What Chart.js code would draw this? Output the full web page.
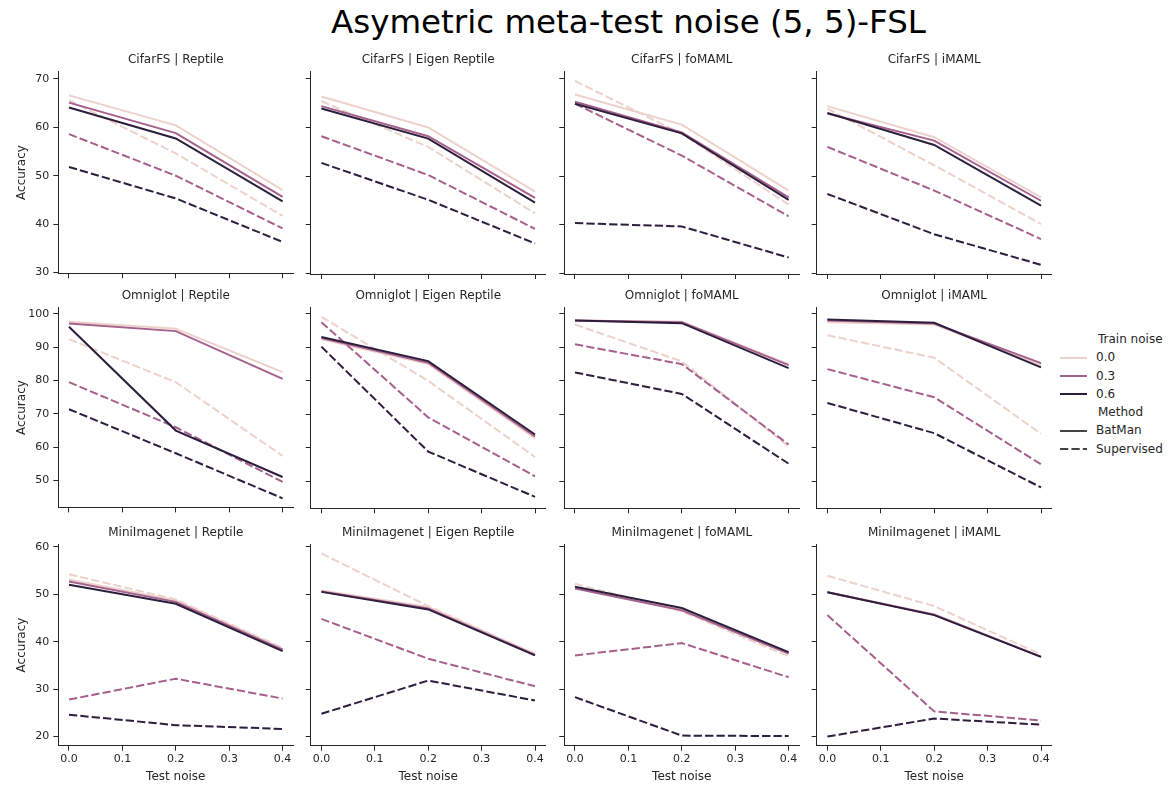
<!DOCTYPE html>
<html>
<head>
<meta charset="utf-8">
<script src="https://cdn.jsdelivr.net/npm/chart.js@4.4.1/dist/chart.umd.min.js"></script>
<style>
  body { margin: 0; background: #fff; font-family: 'DejaVu Sans', sans-serif; color: #262626; }
  #wrap { position: relative; width: 1171px; height: 785px; overflow: hidden; background: #fff; }
  #wrap canvas { position: absolute; }
  .suptitle { position: absolute; left: 43px; width: 1171px; top: 2px; line-height: 40px; font-size: 32.5px; text-align: center; color: #000; }
  .legend { position: absolute; left: 1060px; top: 330px; font-size: 12px; color: #262626; }
  .legend div { height: 18.3px; line-height: 18.3px; white-space: nowrap; }
  .legend svg { vertical-align: middle; margin-right: 9px; }
  .legend .head { padding-left: 38px; }
</style>
</head>
<body>
<div id="wrap">
  <div class="suptitle">Asymetric meta-test noise (5, 5)-FSL</div>
  <div class="legend" id="legend"></div>
</div>
<script>
// x values and labels
var testNoise = [0.0, 0.2, 0.4];
var xTickValues = [0.0, 0.1, 0.2, 0.3, 0.4];
var trainNoise = ['0.0', '0.3', '0.6'];
var methodNames = ['BatMan', 'Supervised'];
var rowNames = ['CifarFS', 'Omniglot', 'MiniImagenet'];
var colNames = ['Reptile', 'Eigen Reptile', 'foMAML', 'iMAML'];
var cifarTicks = [30, 40, 50, 60, 70];
var omniTicks = [50, 60, 70, 80, 90, 100];
var miniTicks = [20, 30, 40, 50, 60];

// accuracy, one row per train noise (0.0, 0.3, 0.6), columns = test noise
var cifarReptileBatMan = [[66.6, 60.4, 47.0], [65.1, 58.8, 45.6], [64.1, 57.7, 44.7]];
var cifarReptileSup    = [[65.6, 54.6, 41.7], [58.6, 50.0, 39.1], [51.8, 45.3, 36.3]];
var cifarEigenBatMan   = [[66.4, 60.0, 46.8], [64.4, 58.2, 45.5], [63.9, 57.7, 44.5]];
var cifarEigenSup      = [[65.4, 56.0, 42.3], [58.2, 50.2, 39.1], [52.7, 45.1, 36.1]];
var cifarFomamlBatMan  = [[66.8, 60.6, 47.0], [65.3, 59.0, 45.6], [64.9, 58.8, 45.1]];
var cifarFomamlSup     = [[69.6, 58.7, 44.1], [64.9, 54.2, 41.7], [40.3, 39.6, 33.2]];
var cifarImamlBatMan   = [[64.4, 58.0, 45.6], [62.9, 57.3, 44.9], [63.0, 56.4, 43.9]];
var cifarImamlSup      = [[63.9, 52.2, 40.1], [56.0, 47.0, 37.0], [46.3, 38.0, 31.7]];

var omniReptileBatMan  = [[97.6, 95.5, 82.5], [97.1, 94.8, 80.5], [96.1, 65.0, 51.1]];
var omniReptileSup     = [[92.4, 79.5, 57.4], [79.5, 66.0, 49.6], [71.4, 58.2, 44.7]];
var omniEigenBatMan    = [[92.4, 85.0, 62.9], [92.8, 85.4, 63.4], [93.1, 85.9, 64.0]];
var omniEigenSup       = [[99.1, 80.0, 57.3], [97.5, 69.1, 51.5], [90.2, 58.9, 45.4]];
var omniFomamlBatMan   = [[98.0, 97.6, 85.0], [98.0, 97.5, 84.7], [98.0, 97.2, 83.8]];
var omniFomamlSup      = [[96.8, 85.8, 60.4], [90.9, 85.0, 61.0], [82.5, 76.1, 55.3]];
var omniImamlBatMan    = [[97.5, 96.8, 84.7], [98.0, 97.1, 85.3], [98.3, 97.3, 84.0]];
var omniImamlSup       = [[93.6, 86.9, 64.2], [83.5, 75.1, 55.1], [73.4, 64.4, 48.2]];

var miniReptileBatMan  = [[53.1, 48.7, 38.5], [52.7, 48.4, 38.3], [52.0, 48.0, 38.0]];
var miniReptileSup     = [[54.2, 48.9, 38.7], [27.8, 32.2, 28.0], [24.6, 22.4, 21.6]];
var miniEigenBatMan    = [[50.8, 47.3, 37.4], [50.6, 47.0, 37.2], [50.5, 46.8, 37.1]];
var miniEigenSup       = [[58.6, 47.5, 37.4], [44.8, 36.4, 30.6], [24.8, 31.8, 27.6]];
var miniFomamlBatMan   = [[51.4, 46.8, 37.6], [51.2, 46.6, 37.5], [51.6, 47.1, 37.8]];
var miniFomamlSup      = [[52.2, 46.4, 36.9], [37.1, 39.7, 32.5], [28.3, 20.2, 20.1]];
var miniImamlBatMan    = [[50.5, 45.8, 36.9], [50.4, 45.7, 36.8], [50.4, 45.6, 36.8]];
var miniImamlSup       = [[53.9, 47.5, 37.3], [45.6, 25.3, 23.4], [20.0, 23.8, 22.5]];

(function () {
    'use strict';

    var panels = [
        [[cifarReptileBatMan, cifarReptileSup], [cifarEigenBatMan, cifarEigenSup], [cifarFomamlBatMan, cifarFomamlSup], [cifarImamlBatMan, cifarImamlSup]],
        [[omniReptileBatMan, omniReptileSup], [omniEigenBatMan, omniEigenSup], [omniFomamlBatMan, omniFomamlSup], [omniImamlBatMan, omniImamlSup]],
        [[miniReptileBatMan, miniReptileSup], [miniEigenBatMan, miniEigenSup], [miniFomamlBatMan, miniFomamlSup], [miniImamlBatMan, miniImamlSup]]
    ];
    var rowTicks = [cifarTicks, omniTicks, miniTicks];

    var colors = ['#edd1cb', '#a6608c', '#2d1e3e'];
    var ink = '#262626';
    var dash = [8.3, 3.1];

    var plotLeft = [58.3, 310.7, 564.3, 816.7], plotW = 235;
    var plotTop = [71.7, 307.7, 544.3], plotBottom = [274, 508.3, 745.7];
    var titleH = 12 * 1.2 + 2 + 4.5;

    Chart.defaults.font.family = "'DejaVu Sans', sans-serif";
    Chart.defaults.color = ink;

    var wrap = document.getElementById('wrap');

    panels.forEach(function (row, r) {
        // shared y range for the row, 5% margins like matplotlib
        var lo = Infinity, hi = -Infinity;
        row.forEach(function (p) {
            p.forEach(function (m) { m.forEach(function (s) { s.forEach(function (v) { lo = Math.min(lo, v); hi = Math.max(hi, v); }); }); });
        });
        var pad = (hi - lo) * 0.05;
        var yMin = lo - pad, yMax = hi + pad;
        var bottomRow = r === 2;

        row.forEach(function (p, c) {
            var firstCol = c === 0;
            var canvasLeft = firstCol ? 0 : Math.floor(plotLeft[c] - 20);
            var yW = plotLeft[c] - canvasLeft;
            var canvasTop = Math.floor(plotTop[r] - titleH);
            var padTop = plotTop[r] - titleH - canvasTop;
            var xH = bottomRow ? 785 - plotBottom[r] : 10;
            var h = Math.round(plotBottom[r] - canvasTop + xH);
            xH = h - (plotBottom[r] - canvasTop);
            var w = Math.round(yW + plotW + 13);

            var cv = document.createElement('canvas');
            cv.width = w; cv.height = h;
            cv.style.left = canvasLeft + 'px';
            cv.style.top = canvasTop + 'px';
            cv.style.width = w + 'px';
            cv.style.height = h + 'px';
            wrap.appendChild(cv);

            var datasets = [];
            for (var k = 2; k >= 0; k--) {
                [1, 0].forEach(function (m) {
                    var vals = p[m][k];
                    datasets.push({
                        label: methodNames[m] + ' ' + trainNoise[k],
                        data: testNoise.map(function (x, i) { return { x: x, y: vals[i] }; }),
                        borderColor: colors[k],
                        backgroundColor: colors[k],
                        borderWidth: 2,
                        borderDash: m === 1 ? dash : [],
                        pointRadius: 0,
                        tension: 0,
                        fill: false
                    });
                });
            }

            new Chart(cv, {
                type: 'line',
                data: { datasets: datasets },
                options: {
                    responsive: false,
                    animation: false,
                    layout: { padding: { top: padTop, left: 0, right: w - yW - plotW, bottom: 0 } },
                    plugins: {
                        legend: { display: false },
                        tooltip: { enabled: false },
                        title: {
                            display: true,
                            fullSize: false,
                            text: rowNames[r] + ' | ' + colNames[c],
                            font: { size: 12, weight: 'normal' },
                            color: ink,
                            padding: { top: 2, bottom: 4.5 }
                        }
                    },
                    scales: {
                        x: {
                            type: 'linear',
                            min: -0.02,
                            max: 0.42,
                            afterBuildTicks: function (s) { s.ticks = xTickValues.map(function (v) { return { value: v }; }); },
                            afterFit: function (s) { s.height = xH; },
                            ticks: {
                                display: bottomRow,
                                font: { size: 11 },
                                color: ink,
                                padding: 2,
                                maxRotation: 0,
                                autoSkip: false,
                                callback: function (v) { return Number(v).toFixed(1); }
                            },
                            grid: { drawOnChartArea: false, drawTicks: true, tickLength: 5, tickColor: ink, tickWidth: 1 },
                            border: { display: true, color: ink, width: 1 },
                            title: { display: bottomRow, text: 'Test noise', font: { size: 12 }, color: ink, padding: { top: 0, bottom: 785 - 776.7 - 7.2 } }
                        },
                        y: {
                            min: yMin,
                            max: yMax,
                            afterBuildTicks: function (s) { s.ticks = rowTicks[r].map(function (v) { return { value: v }; }); },
                            afterFit: function (s) { s.width = yW; },
                            ticks: {
                                display: firstCol,
                                font: { size: 11 },
                                color: ink,
                                padding: 4,
                                autoSkip: false,
                                callback: function (v) { return String(v); }
                            },
                            grid: { drawOnChartArea: false, drawTicks: true, tickLength: 5, tickColor: ink, tickWidth: 1 },
                            border: { display: true, color: ink, width: 1 },
                            title: { display: firstCol, text: 'Accuracy', font: { size: 12 }, color: ink, padding: { top: 22 - 7.2, bottom: 0 } }
                        }
                    }
                }
            });
        });
    });

    // legend, seaborn style: hue block then style block
    var lg = document.getElementById('legend');
    var line = function (color, dashed) {
        return '<svg width="27" height="4"><line x1="0" y1="2" x2="27" y2="2" stroke="' + color + '" stroke-width="2"' +
            (dashed ? ' stroke-dasharray="8.3,3.1"' : '') + '/></svg>';
    };
    var html = '<div class="head">Train noise</div>';
    trainNoise.forEach(function (t, k) { html += '<div>' + line(colors[k], false) + t + '</div>'; });
    html += '<div class="head">Method</div>';
    methodNames.forEach(function (m, i) { html += '<div>' + line('#444444', i === 1) + m + '</div>'; });
    lg.innerHTML = html;
})();
</script>
</body>
</html>
